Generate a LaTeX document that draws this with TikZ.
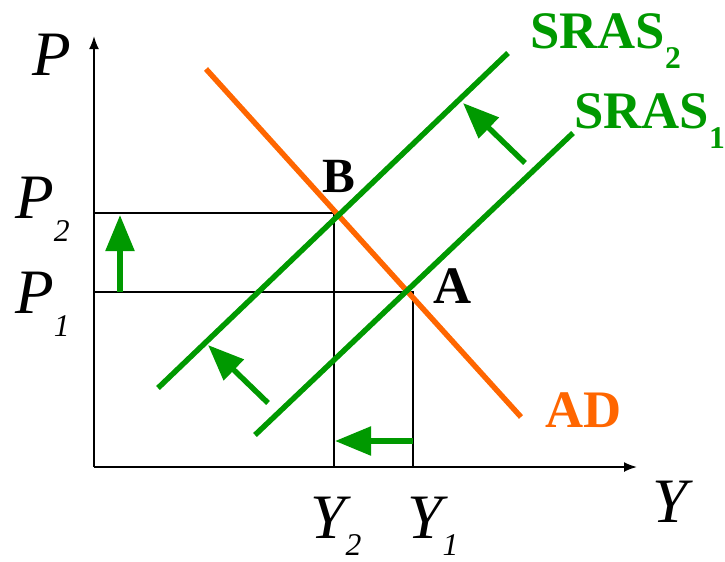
\documentclass[tikz,border=0pt]{standalone}
\usepackage{fontspec}
\setmainfont{Liberation Serif}
\usepackage{tikz}
\usetikzlibrary{calc, arrows.meta}
\definecolor{vertoffre}{HTML}{009900}
\definecolor{orangedemande}{HTML}{FF6600}

\begin{document}
\begin{tikzpicture}[
    guide/.style={line width=1.1pt, black},
    courbe/.style={line width=3.1pt},
    decalage/.style={line width=3.1pt, vertoffre, -{Triangle[length=0.72cm, width=0.56cm]}},
    etiq/.style={anchor=base west, inner sep=0pt},
  ]
  \useasboundingbox (-1.88,-1.88) rectangle (12.62,9.34);
  % Axes
  \coordinate (O) at (0,0);
  \coordinate (haut) at (0,8.62);
  \coordinate (droite) at (10.86,0);
  \draw[guide, -{Latex[length=0.26cm, width=0.2cm]}] (O) -- (haut);
  \draw[guide, -{Latex[length=0.26cm, width=0.2cm]}] (O) -- (droite);
  \node[etiq, font=\fontsize{36}{36}\selectfont\itshape] (labP) at (-1.24,7.84) {P};
  \node[etiq, font=\fontsize{36}{36}\selectfont\itshape] (labY) at (11.16,-1.1) {Y};
  % Equilibres A et B
  \coordinate (B) at (4.8,5.08);
  \coordinate (A) at (6.38,3.5);
  \draw[guide] (0,5.08) -- (B) -- (4.8,0);
  \draw[guide] (0,3.5) -- (A) -- (6.38,0);
  \node[etiq, font=\fontsize{36}{36}\selectfont\itshape] (labP2) at (-1.58,4.98)
    {P\raisebox{-0.47cm}{\fontsize{18}{18}\selectfont 2}};
  \node[etiq, font=\fontsize{36}{36}\selectfont\itshape] (labP1) at (-1.58,3.08)
    {P\raisebox{-0.47cm}{\fontsize{18}{18}\selectfont 1}};
  \node[etiq, font=\fontsize{36}{36}\selectfont\itshape] (labY2) at (4.32,-1.42)
    {Y\raisebox{-0.34cm}{\fontsize{18}{18}\selectfont 2}};
  \node[etiq, font=\fontsize{36}{36}\selectfont\itshape] (labY1) at (6.26,-1.42)
    {Y\raisebox{-0.34cm}{\fontsize{18}{18}\selectfont 1}};
  \node[etiq, font=\fontsize{28}{28}\selectfont\bfseries] (labB) at (4.56,5.5) {B};
  \node[etiq, font=\fontsize{30}{30}\selectfont\bfseries] (labA) at (6.78,3.28) {A};
  % Demande agregee AD
  \coordinate (ADhaut) at (2.24,7.96);
  \coordinate (ADbas) at (8.54,1.0);
  \draw[courbe, orangedemande] (ADhaut) -- (ADbas);
  \node[etiq, orangedemande, font=\fontsize{30}{30}\selectfont\bfseries] (labAD) at (9.02,0.8) {AD};
  % Offres de court terme SRAS
  \coordinate (S2bas) at (1.28,1.58);
  \coordinate (S2haut) at (8.28,8.28);
  \coordinate (S1bas) at (3.22,0.64);
  \coordinate (S1haut) at (9.58,6.68);
  \draw[courbe, vertoffre] (S2bas) -- (S2haut);
  \draw[courbe, vertoffre] (S1bas) -- (S1haut);
  \node[etiq, vertoffre, font=\fontsize{30}{30}\selectfont\bfseries] (labS2) at (8.72,8.38)
    {SRAS\raisebox{-0.4cm}{\fontsize{18}{18}\selectfont 2}};
  \node[etiq, vertoffre, font=\fontsize{30}{30}\selectfont\bfseries] (labS1) at (9.6,6.78)
    {SRAS\raisebox{-0.4cm}{\fontsize{18}{18}\selectfont 1}};
  % Deplacements
  \coordinate (pDe) at (0.52,3.5);
  \coordinate (pA) at (0.52,5.04);
  \coordinate (yDe) at (6.38,0.52);
  \coordinate (yA) at (4.82,0.52);
  \coordinate (gDe) at (3.48,1.28);
  \coordinate (gA) at (2.28,2.44);
  \coordinate (hDe) at (8.62,6.08);
  \coordinate (hA) at (7.38,7.28);
  \draw[decalage] (pDe) -- (pA);
  \draw[decalage] (yDe) -- (yA);
  \draw[decalage] (gDe) -- (gA);
  \draw[decalage] (hDe) -- (hA);
\end{tikzpicture}
\end{document}
